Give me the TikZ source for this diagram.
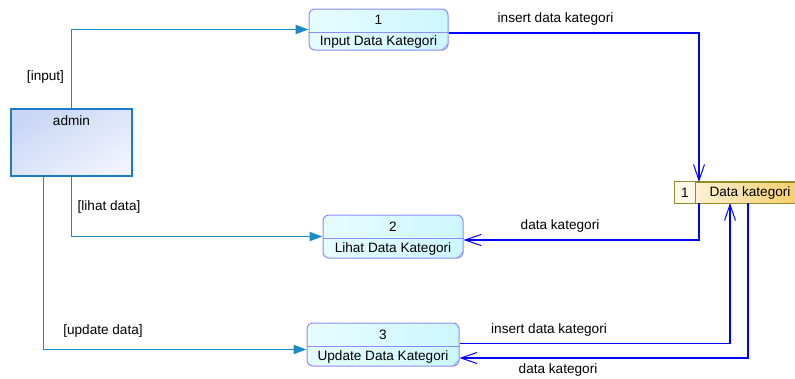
\documentclass[tikz,border=0pt]{standalone}
\usepackage{fontspec}
\setmainfont{Liberation Sans}
\usetikzlibrary{arrows.meta,calc}
\definecolor{procborder}{HTML}{8C8CFF}
\definecolor{procA}{HTML}{E6FDFF}
\definecolor{procB}{HTML}{CDF6FF}
\definecolor{entborder}{HTML}{1C7BC4}
\definecolor{entA}{HTML}{C9D7F5}
\definecolor{entB}{HTML}{F0F2FE}
\definecolor{storeborder}{HTML}{8F8F2A}
\definecolor{storeA}{HTML}{FFF8E6}
\definecolor{storeB}{HTML}{F5CE6E}
\definecolor{flowA}{HTML}{1C8AC6}
\definecolor{flowB}{HTML}{0000FF}
\tikzset{
  proc/.style={draw=procborder, line width=1pt, rounded corners=6pt, left color=procA, right color=procB, inner sep=0pt},
  ent/.style={draw=entborder, line width=1.2pt, shading=axis, top color=entA, bottom color=entB, shading angle=30, inner sep=0pt},
  storebox/.style={draw=storeborder, line width=1pt, inner sep=0pt},
  lbl/.style={inner sep=1pt},
  inflow/.style={draw=flowA, line width=1.8pt, -{Triangle[length=13pt,width=9pt]}},
  dflow/.style={draw=flowB, line width=1.15pt, -{Straight Barb[length=16pt,width=11pt,line width=1pt]}},
}
\begin{document}
\begin{tikzpicture}[x=1pt,y=-1pt,font=\fontsize{13.6}{15}\selectfont]
\useasboundingbox (0,0) rectangle (795,378);

% admin entity
\node[ent, minimum width=121pt, minimum height=67pt] (admin) at (71.5,142.5) {};
\node[lbl] (admintxt) at (71.5,121) {admin};

% processes
\node[proc, minimum width=139pt, minimum height=41pt] (p1) at (378.5,29.5) {};
\draw[procborder, line width=1pt] (p1.west |- 0,32) -- (p1.east |- 0,32);
\draw[procborder, line width=0.6pt] ($(p1.south east)+(-7pt,0)$) -- ($(p1.south east)+(0,7pt)$);
\node[lbl] (p1n) at (p1.center |- 0,20) {1};
\node[lbl] (p1t) at (p1.center |- 0,42) {Input Data Kategori};

\node[proc, minimum width=140pt, minimum height=43pt] (p2) at (393,236.5) {};
\draw[procborder, line width=1pt] (p2.west |- 0,238) -- (p2.east |- 0,238);
\draw[procborder, line width=0.6pt] ($(p2.south east)+(-7pt,0)$) -- ($(p2.south east)+(0,7pt)$);
\node[lbl] (p2n) at (p2.center |- 0,226.5) {2};
\node[lbl] (p2t) at (p2.center |- 0,249) {Lihat Data Kategori};

\node[proc, minimum width=152pt, minimum height=43pt] (p3) at (383,344.5) {};
\draw[procborder, line width=1pt] (p3.west |- 0,346) -- (p3.east |- 0,346);
\draw[procborder, line width=0.6pt] ($(p3.south east)+(-7pt,0)$) -- ($(p3.south east)+(0,7pt)$);
\node[lbl] (p3n) at (p3.center |- 0,334.5) {3};
\node[lbl] (p3t) at (p3.center |- 0,357) {Update Data Kategori};

% data store
\node[storebox, left color=storeA, right color=storeB, minimum width=120pt, minimum height=21pt] (ds) at (735,192.5) {};
\fill[storeA] ([shift={(0.5pt,-0.5pt)}]ds.north west) rectangle (695,202.5);
\draw[storebox] (ds.north west) rectangle (ds.south east);
\draw[storeborder, line width=1pt] (695,182) -- (695,203);
\node[lbl] (dsn) at (685,193) {1};
\node[lbl] (dst) at (750,193) {Data kategori};

% coordinates on the store
\coordinate (dsA) at (699,182);
\coordinate (dsB) at (699,203);
\coordinate (dsC) at (730,203);
\coordinate (dsD) at (748,203);

% flows from admin
\draw[inflow] (admin.north) |- (p1.west);
\draw[inflow] (admin.south) |- (p2.west);
\draw[inflow] ($(admin.south west)+(33pt,0)$) |- ([yshift=-5pt]p3.west);
\node[lbl] (l1) at (45.5,77) {[input]};
\node[lbl] (l2) at (109,207) {[lihat data]};
\node[lbl] (l3) at (103,331) {[update data]};

% data flows
\draw[dflow] ([yshift=-3.5pt]p1.east) -| (dsA);
\draw[dflow] (dsB) |- ([yshift=-3.5pt]p2.east);
\draw[dflow] ([yshift=1pt]p3.east) -| (dsC);
\draw[dflow] (dsD) |- ([yshift=-13.5pt]p3.east);
\node[lbl] (l4) at (555.5,19) {insert data kategori};
\node[lbl] (l5) at (560,226) {data kategori};
\node[lbl] (l6) at (549,330) {insert data kategori};
\node[lbl] (l7) at (558,370) {data kategori};
\end{tikzpicture}
\end{document}
